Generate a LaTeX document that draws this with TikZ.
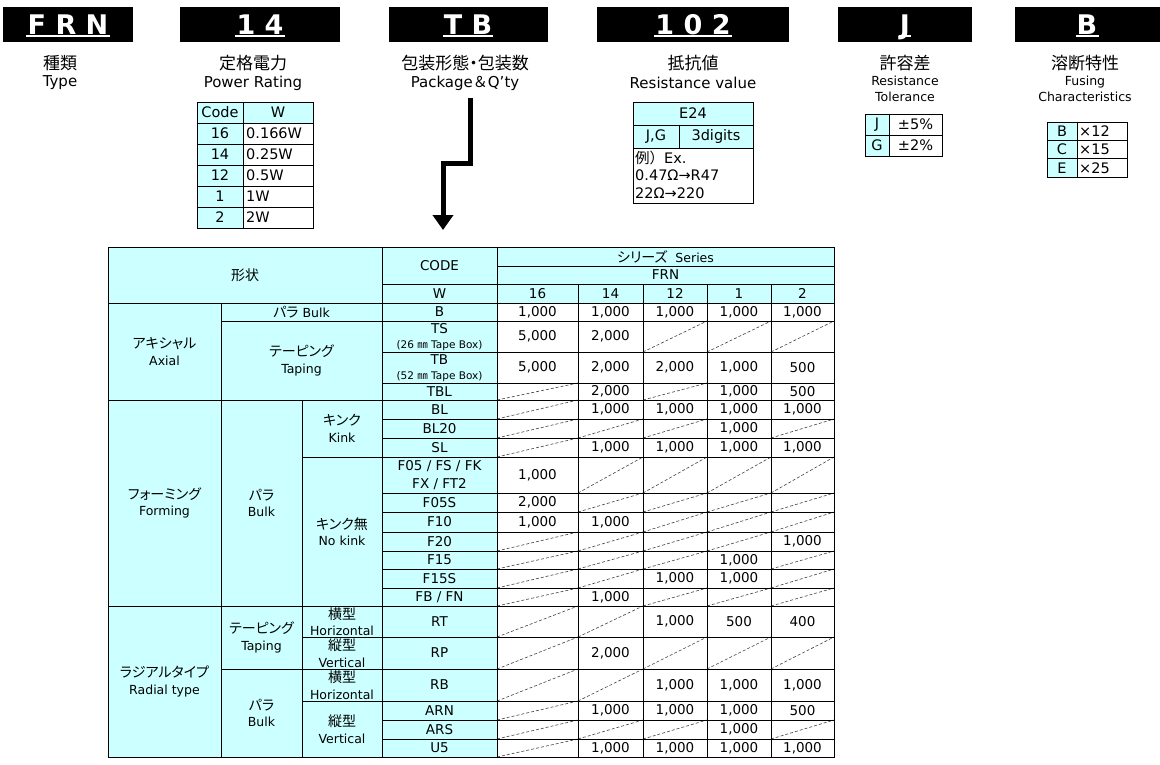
\documentclass[tikz,border=0pt]{standalone}
\usepackage{fontspec}
\setmainfont{DejaVu Sans}
\newfontfamily\jp{Noto Sans CJK JP}
\newfontfamily\jpp{Noto Sans CJK JP}[RawFeature=+palt]
\usetikzlibrary{arrows.meta}
\definecolor{cellcyan}{HTML}{CCFFFF}
\newcommand{\fs}[2]{\fontsize{#1}{#2}\selectfont}
\newcommand{\jt}{\jpp\fs{14}{16.5}}
% one data cell: value, or dashed diagonal if empty
\newcommand{\datacell}[5]{%
  \def\tmpval{#5}%
  \ifx\tmpval\empty
    \draw[nocell] (#1,#4) -- (#2,#3);
  \else
    \node[val] (d#1x#3) at ({(#1+#2)/2},{(#3+#4)/2}) {#5};
  \fi}
\newcommand{\datarow}[7]{%
  \datacell{497}{578}{#1}{#2}{#3}%
  \datacell{578}{643}{#1}{#2}{#4}%
  \datacell{643}{707}{#1}{#2}{#5}%
  \datacell{707}{771}{#1}{#2}{#6}%
  \datacell{771}{834}{#1}{#2}{#7}}
\begin{document}
\begin{tikzpicture}[x=1pt,y=-1pt,
	htxt/.style={text=white,font=\fs{27}{30}\bfseries,anchor=base,inner sep=1pt,text depth=0pt},
	uline/.style={white,line width=1.8pt},
	jlbl/.style={font=\jpp\fs{17}{20}},
	elbl/.style={font=\fs{15}{18}},
	slbl/.style={font=\fs{12.5}{15}},
	grid/.style={line width=0.8pt},
	cy/.style={fill=cellcyan},
	stxt/.style={font=\fs{14.5}{17},inner sep=0pt},
	val/.style={font=\fs{13.5}{16},inner sep=0pt},
	lbl/.style={font=\fs{12.5}{16.5},align=center,inner sep=0pt},
	nocell/.style={dash pattern=on 3pt off 2pt,line width=0.6pt,black!75},
	bigarrow/.style={line width=5pt,line join=miter,-{Triangle[width=20pt,length=15pt]}}]
	\useasboundingbox (0,0) rectangle (1160,765);
	% code boxes
	\fill (3,7) rectangle (133,42);
	\fill (180,7) rectangle (340,42);
	\fill (389,7) rectangle (548,42);
	\fill (597,7) rectangle (789,42);
	\fill (838,7) rectangle (972,42);
	\fill (1015,7) rectangle (1160,42);
	\node[htxt] (hFRN) at (68,35) {F R N};
	\node[htxt] (hPow) at (260,35) {1 4};
	\node[htxt] (hPkg) at (468,35) {T B};
	\node[htxt] (hRes) at (693,35) {1 0 2};
	\node[htxt] (hTol) at (905,35) {J};
	\node[htxt] (hFus) at (1087,35) {B};
	\foreach \h in {hFRN,hPow,hPkg,hRes,hTol,hFus}
		\draw[uline] (\h.south west) -- (\h.south east);
	% captions
	\node[jlbl] (typeJ) at (60,63) {種類};
	\node[elbl] (typeE) at (60,83) {Type};
	\node[jlbl] (powJ) at (253,63) {定格電力};
	\node[elbl] (powE) at (253,83) {Power Rating};
	\node[jlbl] (pkgJ) at (465,63) {包装形態・包装数};
	\node[elbl] (pkgE) at (465,83) {Package{\jp ＆}Q’ty};
	\node[jlbl] (resJ) at (693,63) {抵抗値};
	\node[elbl] (resE) at (693,83) {Resistance value};
	\node[jlbl] (tolJ) at (905,63) {許容差};
	\node[slbl] (tolE1) at (905,81) {Resistance};
	\node[slbl] (tolE2) at (905,97) {Tolerance};
	\node[jlbl] (fusJ) at (1085,63) {溶断特性};
	\node[slbl] (fusE1) at (1085,82) {Fusing};
	\node[slbl] (fusE2) at (1085,97) {Characteristics};
	% power rating table
	\fill[cy] (197,102) rectangle (313,123);
	\fill[cy] (197,123) rectangle (243,228);
	\draw[grid] (197,102) rectangle (313,228);
	\foreach \y in {123,144,165,186,207} \draw[grid] (197,\y) -- (313,\y);
	\draw[grid] (243,102) -- (243,228);
	\node[stxt] (pwCode) at (220,112.5) {Code};
	\node[stxt] (pwW) at (278,112.5) {W};
	\foreach \c/\w [count=\i] in {16/0.166W,14/0.25W,12/0.5W,1/1W,2/2W}{
		\node[stxt] (pc\i) at (220,{112.5+21*\i}) {\c};
		\node[stxt,anchor=west] (pw\i) at (246,{112.5+21*\i}) {\w};
	}
	% resistance value table
	\fill[cy] (633,102) rectangle (753,148);
	\draw[grid] (633,102) rectangle (753,203);
	\draw[grid] (633,125) -- (753,125);
	\draw[grid] (633,148) -- (753,148);
	\draw[grid] (679,125) -- (679,148);
	\node[stxt] (e24) at (693,113.5) {E24};
	\node[stxt] (jg) at (656,136.5) {J,G};
	\node[stxt] (dig) at (716,136.5) {3digits};
	\node[stxt,anchor=west] (ex1) at (635,158) {{\jp 例）}Ex.};
	\node[stxt,anchor=west] (ex2) at (635,175.5) {0.47Ω→R47};
	\node[stxt,anchor=west] (ex3) at (635,193) {22Ω→220};
	% tolerance table
	\fill[cy] (865,114) rectangle (889,156);
	\draw[grid] (865,114) rectangle (942,156);
	\draw[grid] (865,135) -- (942,135);
	\draw[grid] (889,114) -- (889,156);
	\node[stxt] (tJ) at (877,124.5) {J};
	\node[stxt] (tJv) at (915.5,124.5) {±5\%};
	\node[stxt] (tG) at (877,145.5) {G};
	\node[stxt] (tGv) at (915.5,145.5) {±2\%};
	% fusing table
	\fill[cy] (1047,122) rectangle (1077,177);
	\draw[grid] (1047,122) rectangle (1127,177);
	\draw[grid] (1047,140.3) -- (1127,140.3);
	\draw[grid] (1047,158.7) -- (1127,158.7);
	\draw[grid] (1077,122) -- (1077,177);
	\node[stxt] (fB) at (1062,131) {B};
	\node[stxt,anchor=west] (fBv) at (1079,131) {×12};
	\node[stxt] (fC) at (1062,149.5) {C};
	\node[stxt,anchor=west] (fCv) at (1079,149.5) {×15};
	\node[stxt] (fE) at (1062,168) {E};
	\node[stxt,anchor=west] (fEv) at (1079,168) {×25};
	% arrow
	\coordinate (arrTop) at (470,98);
	\coordinate (arrEnd) at (443,230);
	\draw[bigarrow] (arrTop) -- ++(0,66) -| (arrEnd);
	% main table
	\fill[cy] (108,247) rectangle (497,757);
	\fill[cy] (497,247) rectangle (834,303);
	\datarow{303}{321}{1,000}{1,000}{1,000}{1,000}{1,000}
	\datarow{321}{352}{5,000}{2,000}{}{}{}
	\datarow{352}{383}{5,000}{2,000}{2,000}{1,000}{500}
	\datarow{383}{400}{}{2,000}{}{1,000}{500}
	\datarow{400}{419}{}{1,000}{1,000}{1,000}{1,000}
	\datarow{419}{438}{}{}{}{1,000}{}
	\datarow{438}{457}{}{1,000}{1,000}{1,000}{1,000}
	\datarow{457}{493}{1,000}{}{}{}{}
	\datarow{493}{512}{2,000}{}{}{}{}
	\datarow{512}{532}{1,000}{1,000}{}{}{}
	\datarow{532}{551}{}{}{}{}{1,000}
	\datarow{551}{569}{}{}{}{1,000}{}
	\datarow{569}{588}{}{}{1,000}{1,000}{}
	\datarow{588}{606}{}{1,000}{}{}{}
	\datarow{606}{637}{}{}{1,000}{500}{400}
	\datarow{637}{669}{}{2,000}{}{}{}
	\datarow{669}{701}{}{}{1,000}{1,000}{1,000}
	\datarow{701}{720}{}{1,000}{1,000}{1,000}{500}
	\datarow{720}{739}{}{}{}{1,000}{}
	\datarow{739}{757}{}{1,000}{1,000}{1,000}{1,000}
	% grid lines
	\draw[grid] (497,266) -- (834,266);
	\foreach \y in {284,352,383,419,438,493,512,532,551,569,588,720,739}
		\draw[grid] (382,\y) -- (834,\y);
	\foreach \y in {321,669} \draw[grid] (221,\y) -- (834,\y);
	\foreach \y in {457,637,701} \draw[grid] (302,\y) -- (834,\y);
	\foreach \y in {303,400,606} \draw[grid] (108,\y) -- (834,\y);
	\draw[grid] (221,303) -- (221,757);
	\draw[grid] (302,400) -- (302,757);
	\draw[grid] (382,247) -- (382,757);
	\draw[grid] (497,247) -- (497,757);
	\foreach \x in {578,643,707,771} \draw[grid] (\x,284) -- (\x,757);
	\draw[grid] (108,247) rectangle (834,757);
	% header cells
	\node[val] (shape) at (245,275) {\jt 形状};
	\node[val] (code) at (439.5,265.5) {CODE};
	\node[val] (wcol) at (439.5,293.5) {W};
	\node[lbl] (series) at (665.5,256.5) {{\jt シリーズ}\ \ Series};
	\node[val] (frn) at (665.5,275) {FRN};
	\node[val] (w16) at (537.5,293.5) {16};
	\node[val] (w14) at (610.5,293.5) {14};
	\node[val] (w12) at (675,293.5) {12};
	\node[val] (w1) at (739,293.5) {1};
	\node[val] (w2) at (802.5,293.5) {2};
	% axial
	\node[lbl] (axial) at (164.5,351.5) {{\jt アキシャル}\\Axial};
	\node[lbl] (axBulk) at (301.5,312) {{\jt パラ} Bulk};
	\node[lbl] (axTape) at (301.5,360.5) {{\jt テーピング}\\Taping};
	\node[val] (cB) at (439.5,312) {B};
	\node[val] (cTS) at (439.5,329) {TS};
	\node[val,font=\fs{10.5}{12}] (cTSb) at (439.5,345.5) {(26 {\jp ㎜} Tape Box)};
	\node[val] (cTB) at (439.5,360) {TB};
	\node[val,font=\fs{10.5}{12}] (cTBb) at (439.5,376.5) {(52 {\jp ㎜} Tape Box)};
	\node[val] (cTBL) at (439.5,391.5) {TBL};
	% forming
	\node[lbl] (forming) at (164.5,503) {{\jt フォーミング}\\Forming};
	\node[lbl] (fmBulk) at (261.5,503) {{\jt パラ}\\Bulk};
	\node[lbl] (kink) at (342,428.5) {{\jt キンク}\\Kink};
	\node[lbl] (nokink) at (342,531.5) {{\jt キンク無}\\No kink};
	\node[val] (cBL) at (439.5,409.5) {BL};
	\node[val] (cBL20) at (439.5,428.5) {BL20};
	\node[val] (cSL) at (439.5,447.5) {SL};
	\node[val,align=center,font=\fs{13.5}{18}] (cF05) at (439.5,475) {F05 / FS / FK\\FX / FT2};
	\node[val] (cF05S) at (439.5,502.5) {F05S};
	\node[val] (cF10) at (439.5,522) {F10};
	\node[val] (cF20) at (439.5,541.5) {F20};
	\node[val] (cF15) at (439.5,560) {F15};
	\node[val] (cF15S) at (439.5,578.5) {F15S};
	\node[val] (cFB) at (439.5,597) {FB / FN};
	% radial
	\node[lbl] (radial) at (164.5,681.5) {{\jt ラジアルタイプ}\\Radial type};
	\node[lbl] (rdTape) at (261.5,637.5) {{\jt テーピング}\\Taping};
	\node[lbl] (rdBulk) at (261.5,713) {{\jt パラ}\\Bulk};
	\node[lbl] (rtH) at (342,621.5) {{\jt 横型}\\Horizontal};
	\node[lbl] (rpV) at (342,653) {{\jt 縦型}\\Vertical};
	\node[lbl] (rbH) at (342,685) {{\jt 横型}\\Horizontal};
	\node[lbl] (arV) at (342,729) {{\jt 縦型}\\Vertical};
	\node[val] (cRT) at (439.5,621.5) {RT};
	\node[val] (cRP) at (439.5,653) {RP};
	\node[val] (cRB) at (439.5,685) {RB};
	\node[val] (cARN) at (439.5,710.5) {ARN};
	\node[val] (cARS) at (439.5,729.5) {ARS};
	\node[val] (cU5) at (439.5,748) {U5};
\end{tikzpicture}
\end{document}
